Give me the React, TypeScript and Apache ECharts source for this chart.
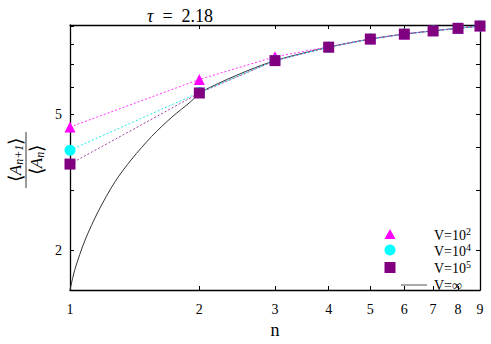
import React, { useEffect, useRef } from "react";
import * as echarts from "echarts";

const nTicks = [1, 2, 3, 4, 5, 6, 7, 8, 9];
const yTickValues = [2, 3, 4, 5, 6, 7, 8, 9];
const yLabelValues = [2, 5];

const nPoints = [1, 2, 3, 4, 5, 6, 7, 8, 9];
const v1e2 = [4.58, 6.31, 7.35, 7.86, 8.29, 8.57, 8.76, 8.91, 9.05];
const v1e4 = [3.92, 5.78, 7.17, 7.84, 8.28, 8.56, 8.75, 8.9, 9.04];
const v1e5 = [3.57, 5.76, 7.16, 7.84, 8.28, 8.56, 8.75, 8.9, 9.04];

const infN = [1, 1.027, 1.084, 1.164, 1.273, 1.392, 1.549, 1.724, 1.919, 2, 2.443, 3, 4, 5, 6, 7, 8, 9];
const infV = [1.53, 1.76, 2.14, 2.6, 3.17, 3.69, 4.3, 4.89, 5.46, 5.76, 6.49, 7.16, 7.84, 8.28, 8.56, 8.75, 8.9, 9.04];

const SERIF = "'Liberation Serif', serif";

export default function App() {
  const ref = useRef<HTMLDivElement>(null);
  useEffect(() => {
    if (!ref.current) return;
    const chart = echarts.init(ref.current, undefined, { renderer: "svg", width: 491, height: 344 });
    const pair = (ys: number[]) => nPoints.map((n, i) => [n, ys[i]]);
    const axisLine = { show: true, lineStyle: { color: "#000", width: 1.3 } };
    const tick = { show: true, inside: true, length: 4, lineStyle: { color: "#000", width: 1 } };
    const sup = { fontSize: 10, fontFamily: SERIF, color: "#000", padding: [0, 0, 8, 0] };
    const legendText = { fontSize: 14, fontFamily: SERIF, fill: "#000" };
    chart.setOption({
      animation: false,
      backgroundColor: "#fff",
      textStyle: { fontFamily: SERIF },
      grid: { left: 70, right: 11, top: 25, bottom: 46, containLabel: false },
      xAxis: [
        {
          type: "log",
          logBase: 10,
          min: 1,
          max: 9,
          position: "bottom",
          axisLine,
          axisTick: { ...tick, customValues: nTicks },
          axisLabel: { customValues: nTicks, color: "#000", fontFamily: SERIF, fontSize: 14, margin: 12 },
          splitLine: { show: false },
          minorTick: { show: false },
          name: "n",
          nameLocation: "middle",
          nameGap: 31,
          nameTextStyle: { color: "#000", fontFamily: SERIF, fontSize: 18 },
        },
        {
          type: "log",
          logBase: 10,
          min: 1,
          max: 9,
          position: "top",
          axisLine,
          axisTick: { ...tick, customValues: nTicks },
          axisLabel: { show: false },
          splitLine: { show: false },
        },
      ],
      yAxis: [
        {
          type: "log",
          logBase: 10,
          min: 1.53,
          max: 9.1,
          position: "left",
          axisLine,
          axisTick: { ...tick, customValues: yTickValues },
          axisLabel: { customValues: yLabelValues, color: "#000", fontFamily: SERIF, fontSize: 14, margin: 8 },
          splitLine: { show: false },
        },
        {
          type: "log",
          logBase: 10,
          min: 1.53,
          max: 9.1,
          position: "right",
          axisLine,
          axisTick: { ...tick, customValues: yTickValues },
          axisLabel: { show: false },
          splitLine: { show: false },
        },
      ],
      series: [
        {
          name: "V=∞",
          type: "line",
          data: infN.map((n, i) => [n, infV[i]]),
          showSymbol: false,
          symbol: "none",
          smooth: 0.3,
          lineStyle: { color: "#333", width: 1 },
          z: 1,
        },
        {
          name: "V=10^2",
          type: "line",
          data: pair(v1e2),
          symbol: "triangle",
          symbolSize: 11,
          itemStyle: { color: "#ff00ff" },
          lineStyle: { color: "#ff33ff", width: 1, type: [2, 2] },
          z: 2,
        },
        {
          name: "V=10^4",
          type: "line",
          data: pair(v1e4),
          symbol: "circle",
          symbolSize: 11,
          itemStyle: { color: "#00ffff" },
          lineStyle: { color: "#22e8e8", width: 1, type: [2, 2] },
          z: 3,
        },
        {
          name: "V=10^5",
          type: "line",
          data: pair(v1e5),
          symbol: "rect",
          symbolSize: 11,
          itemStyle: { color: "#800080" },
          lineStyle: { color: "#a040a0", width: 1, type: [2, 2] },
          z: 4,
        },
      ],
      graphic: [
        {
          type: "text",
          x: 147,
          y: 7,
          style: {
            text: "{t|τ}  =  2.18",
            fontSize: 18,
            fontFamily: SERIF,
            fill: "#000",
            rich: { t: { fontSize: 18, fontFamily: SERIF, fontStyle: "italic", color: "#000" } },
          },
        },
        {
          type: "group",
          x: 26,
          y: 160,
          rotation: Math.PI / 2,
          children: [
            {
              type: "text",
              x: 0,
              y: -1,
              style: {
                text: "⟨{i|A}{s|n+1}⟩",
                fontSize: 19,
                fontFamily: SERIF,
                fill: "#000",
                align: "center",
                verticalAlign: "bottom",
                rich: {
                  i: { fontSize: 17, fontFamily: SERIF, fontStyle: "italic", color: "#000" },
                  s: { fontSize: 12, fontFamily: SERIF, fontStyle: "italic", color: "#000", padding: [7, 0, 0, 0] },
                },
              },
            },
            {
              type: "line",
              shape: { x1: -28, y1: 0, x2: 28, y2: 0 },
              style: { stroke: "#000", lineWidth: 0.8 },
            },
            {
              type: "text",
              x: 0,
              y: 1,
              style: {
                text: "⟨{i|A}{s|n}⟩",
                fontSize: 19,
                fontFamily: SERIF,
                fill: "#000",
                align: "center",
                verticalAlign: "top",
                rich: {
                  i: { fontSize: 17, fontFamily: SERIF, fontStyle: "italic", color: "#000" },
                  s: { fontSize: 12, fontFamily: SERIF, fontStyle: "italic", color: "#000", padding: [7, 0, 0, 0] },
                },
              },
            },
          ],
        },
        {
          type: "polygon",
          shape: { points: [[390, 229], [384.5, 239], [395.5, 239]] },
          style: { fill: "#ff00ff" },
        },
        {
          type: "circle",
          shape: { cx: 390, cy: 250, r: 5.5 },
          style: { fill: "#00ffff" },
        },
        {
          type: "rect",
          shape: { x: 384.5, y: 262, width: 11, height: 11 },
          style: { fill: "#800080" },
        },
        {
          type: "line",
          shape: { x1: 401, y1: 285, x2: 427, y2: 285 },
          style: { stroke: "#555", lineWidth: 1 },
        },
        {
          type: "text",
          x: 434,
          y: 235,
          style: { ...legendText, text: "V=10{s|2}", verticalAlign: "middle", rich: { s: sup } },
        },
        {
          type: "text",
          x: 434,
          y: 251,
          style: { ...legendText, text: "V=10{s|4}", verticalAlign: "middle", rich: { s: sup } },
        },
        {
          type: "text",
          x: 434,
          y: 268,
          style: { ...legendText, text: "V=10{s|5}", verticalAlign: "middle", rich: { s: sup } },
        },
        {
          type: "text",
          x: 434,
          y: 285,
          style: { ...legendText, text: "V=∞", verticalAlign: "middle" },
        },
      ],
    });
    return () => chart.dispose();
  }, []);
  return <div ref={ref} style={{ width: 491, height: 344, position: "absolute", left: 0, top: 0 }} />;
}
